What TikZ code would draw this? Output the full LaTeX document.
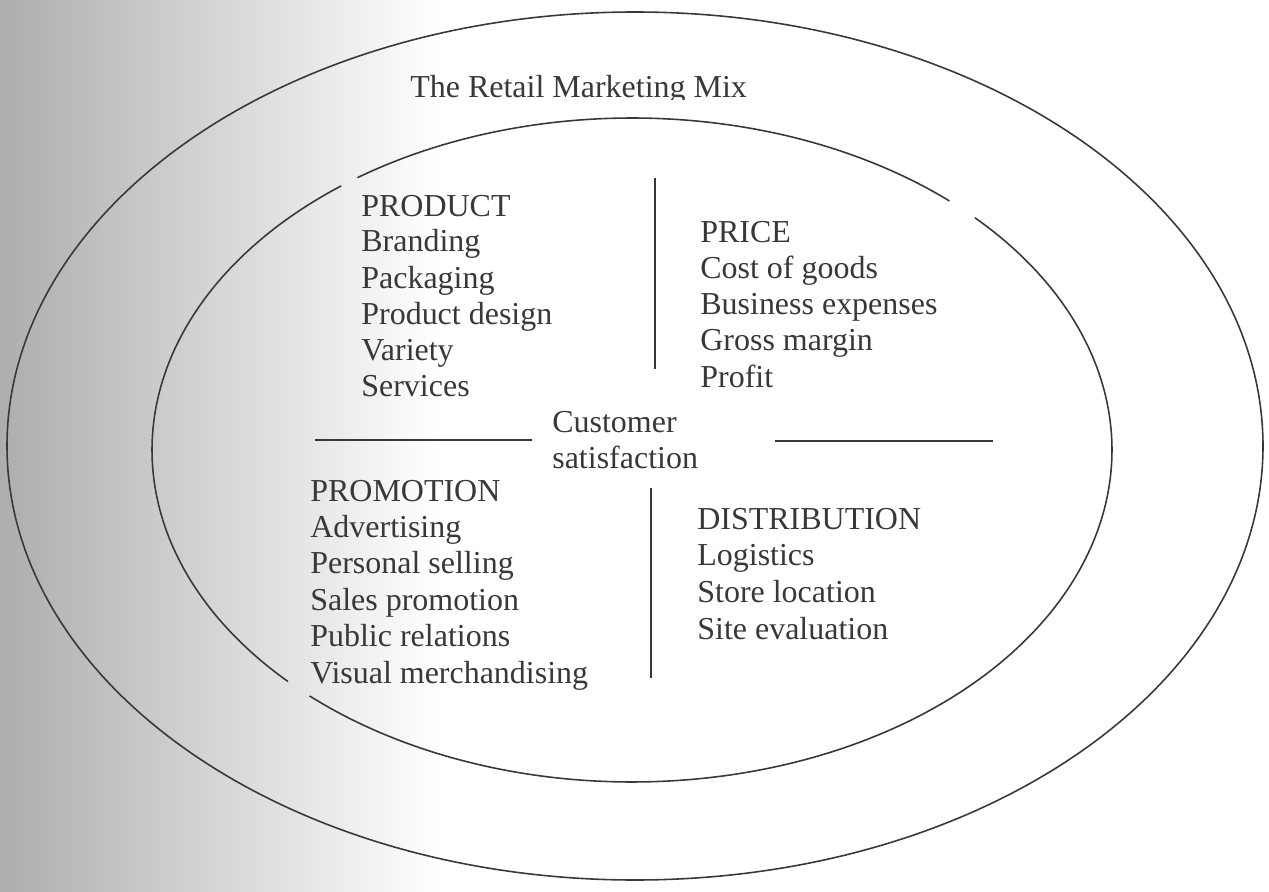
\documentclass[tikz,border=0pt]{standalone}
\usepackage{fontspec}
\setmainfont{Liberation Serif}
\usepackage{tikz}
\usepackage{xcolor}

\definecolor{ink}{gray}{0.22}

\begin{document}
\begin{tikzpicture}[x=0.02cm, y=-0.02cm,
                    line/.style={draw=ink, line width=0.9pt},
                    item/.style={anchor=base west, inner sep=0pt, text=ink, font=\fontsize{18.2}{20}\selectfont}]
                        \useasboundingbox (0, 0) rectangle (1269, 892);
                        % grey shading along the left edge
                        \shade[left color=black!32, middle color=black!5, right color=white] (0, 0) rectangle (440, 892);

                        % outer ring
                        \draw[line] (635, 446) ellipse [x radius=628, y radius=434];
                        % inner ring, drawn in three pieces
                        \foreach \a/\b in {235.1/311.4, 315.6/492.2, 135.8/232.7} {
                            \draw[line] plot[domain=\a:\b, samples=90, smooth] ({632 + 480*cos(\x)}, {450 + 332*sin(\x)});
                        }

                        % title, cut at the line under it
                        \begin{scope}
                            \clip (380, 60) rectangle (800, 99.5);
                            \node[item] (title) at (410, 98) {The Retail Marketing Mix};
                        \end{scope}

                        % the four quadrants
                        \foreach \txt [count=\i] in {PRODUCT, Branding, Packaging, Product design, Variety, Services} {
                            \node[item] (product-\i) at (361, {216 + 36*(\i - 1)}) {\txt};
                        }
                        \foreach \txt [count=\i] in {PRICE, Cost of goods, Business expenses, Gross margin, Profit} {
                            \node[item] (price-\i) at (700, {242 + 36.3*(\i - 1)}) {\txt};
                        }
                        \foreach \txt [count=\i] in {PROMOTION, Advertising, Personal selling, Sales promotion, Public relations, Visual merchandising} {
                            \node[item] (promotion-\i) at (310, {501 + 36.4*(\i - 1)}) {\txt};
                        }
                        \foreach \txt [count=\i] in {DISTRIBUTION, Logistics, Store location, Site evaluation} {
                            \node[item] (distribution-\i) at (697, {529 + 36.7*(\i - 1)}) {\txt};
                        }

                        % centre
                        \node[item] (customer-1) at (552, 432) {Customer};
                        \node[item] (customer-2) at (552, 468) {satisfaction};

                        % dividers
                        \draw[line]
                        (655, 178) -- (655, 369)
                        (651, 488) -- (651, 678)
                        (315, 440) -- (532, 440)
                        (775, 441) -- (993, 441);
                    \end{tikzpicture}
\end{document}
